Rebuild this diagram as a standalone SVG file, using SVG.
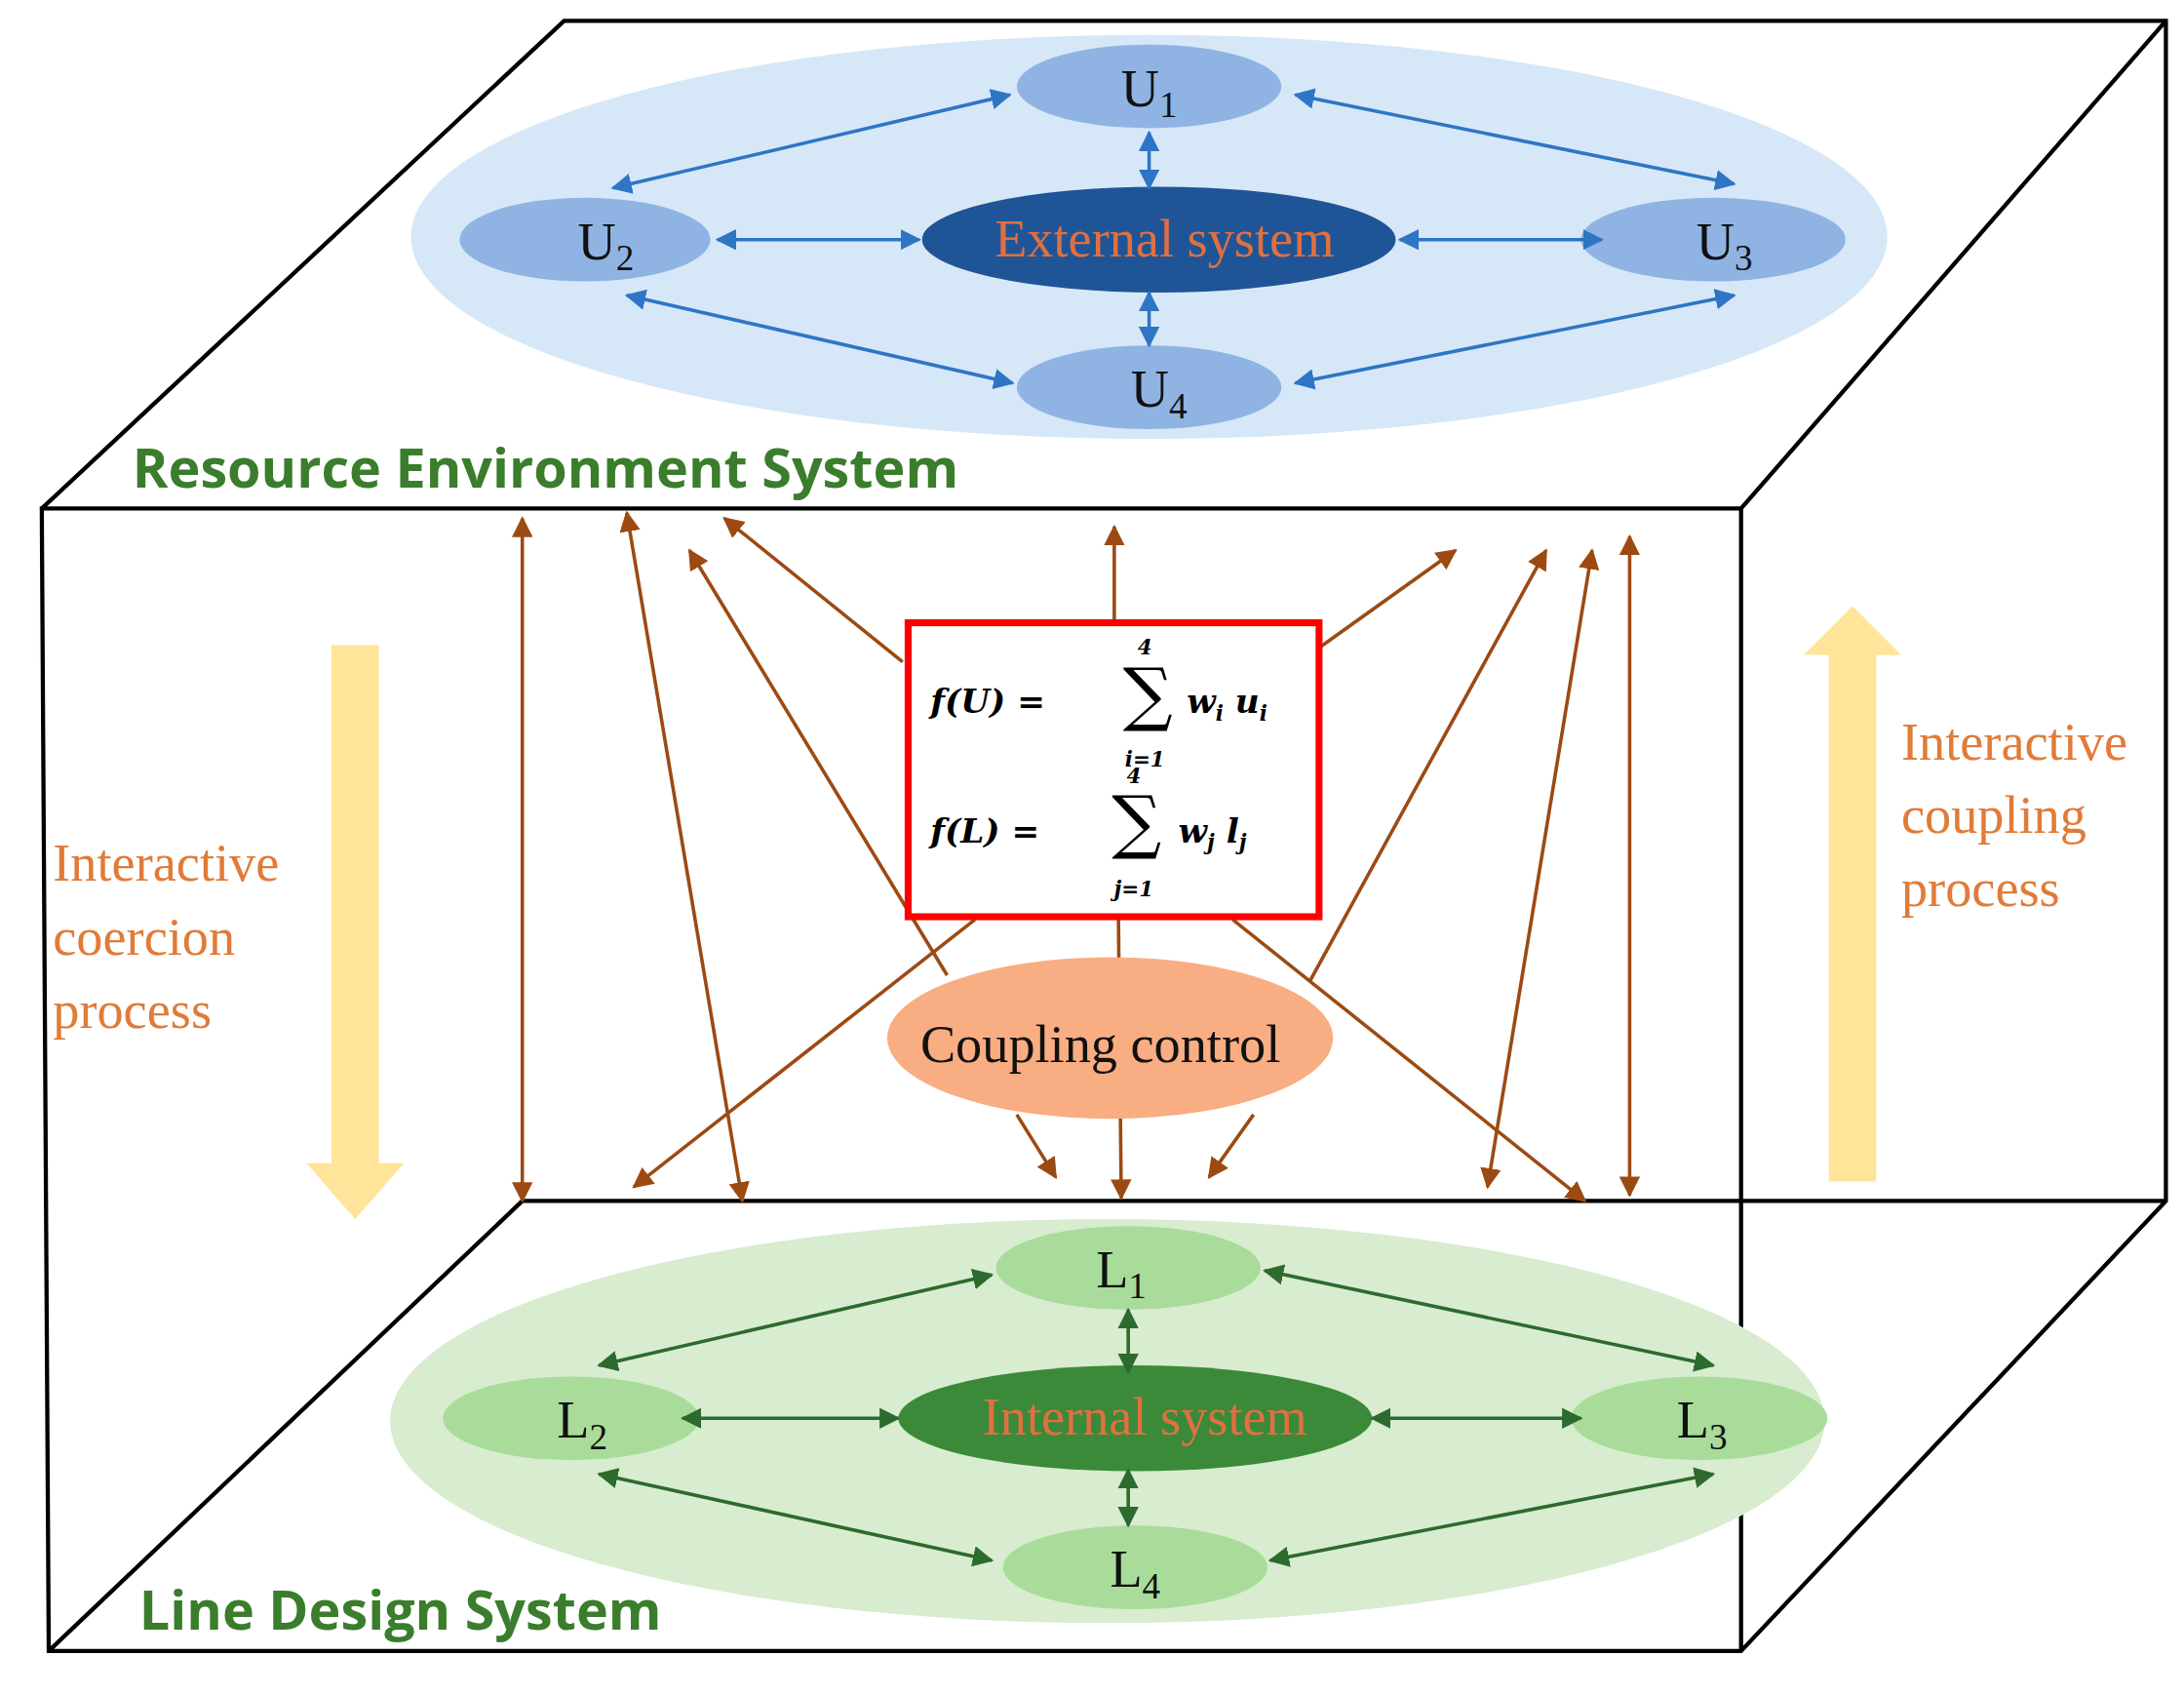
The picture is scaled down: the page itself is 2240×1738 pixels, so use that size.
<svg xmlns="http://www.w3.org/2000/svg" width="2240" height="1738" viewBox="0 0 2240 1738">
<defs>
<marker id="mb" viewBox="0 0 10 10" refX="9" refY="5" markerWidth="6" markerHeight="6" orient="auto-start-reverse"><path d="M0,0 L10,5 L0,10 z" fill="#2e75c6"/></marker>
<marker id="mg" viewBox="0 0 10 10" refX="9" refY="5" markerWidth="6" markerHeight="6" orient="auto-start-reverse"><path d="M0,0 L10,5 L0,10 z" fill="#2d6a2d"/></marker>
<marker id="mr" viewBox="0 0 10 10" refX="9" refY="5" markerWidth="6" markerHeight="6" orient="auto-start-reverse"><path d="M0,0 L10,5 L0,10 z" fill="#9c4a12"/></marker>
<style>
.box{fill:none;stroke:#000;stroke-width:3}
.bl{stroke:#2e75c6;stroke-width:2.5;fill:none;marker-start:url(#mb);marker-end:url(#mb)}
.gr{stroke:#2d6a2d;stroke-width:2.5;fill:none;marker-start:url(#mg);marker-end:url(#mg)}
.br{stroke:#9c4a12;stroke-width:2.5;fill:none;marker-end:url(#mr)}
.brd{stroke:#9c4a12;stroke-width:2.5;fill:none;marker-start:url(#mr);marker-end:url(#mr)}
.nt{font-family:"Liberation Serif",serif;font-size:38px;fill:#111;text-anchor:middle}
.or{font-family:"Liberation Serif",serif;font-size:38px;fill:#e07b39}
.sys{font-family:"Open Sans","Liberation Sans",sans-serif;font-size:39px;font-weight:bold;fill:#3a7d2c}
.fm{font-family:"DejaVu Serif",serif;font-weight:bold;font-style:italic;font-size:24px;fill:#000}
.sg{font-family:"DejaVu Serif",serif;font-size:50px;fill:#000;text-anchor:middle}
.sm{font-family:"DejaVu Serif",serif;font-weight:bold;font-style:italic;font-size:15px;fill:#000;text-anchor:middle}
</style>
</defs>
<g transform="scale(1.42857)">
<g id="cube">
<path class="box" d="M30,365 L405,15 L1555,15 L1555,862 L1250,1185 L35,1185 L30,365 L1250,365 L1555,15 M1250,365 L1250,1185 M375,862 L1555,862 M375,862 L35,1185"/>
</g>
<g id="top-layer">
<ellipse cx="825" cy="170" rx="530" ry="145" fill="#d6e8f7"/>
<g id="U1"><ellipse cx="825" cy="62" rx="95" ry="30" fill="#8fb4e3"/><text class="nt" x="825" y="76">U<tspan font-size="26" dy="8">1</tspan></text></g>
<g id="U2"><ellipse cx="420" cy="172" rx="90" ry="30" fill="#8fb4e3"/><text class="nt" x="435" y="186">U<tspan font-size="26" dy="8">2</tspan></text></g>
<g id="U3"><ellipse cx="1230" cy="172" rx="95" ry="30" fill="#8fb4e3"/><text class="nt" x="1238" y="186">U<tspan font-size="26" dy="8">3</tspan></text></g>
<g id="U4"><ellipse cx="825" cy="278" rx="95" ry="30" fill="#8fb4e3"/><text class="nt" x="832" y="292">U<tspan font-size="26" dy="8">4</tspan></text></g>
<g id="external"><ellipse cx="832" cy="172" rx="170" ry="38" fill="#1f5597"/><text class="nt" x="836" y="184" style="fill:#e07040">External system</text></g>
<text class="sys" x="95" y="350">Resource Environment System</text>
</g>
<g id="bottom-layer">
<ellipse cx="795" cy="1020" rx="515" ry="145" fill="#d8ecd0"/>
<g id="L1"><ellipse cx="810" cy="910" rx="95" ry="30" fill="#a9dc9a"/><text class="nt" x="805" y="924">L<tspan font-size="26" dy="8">1</tspan></text></g>
<g id="L2"><ellipse cx="410" cy="1018" rx="92" ry="30" fill="#a9dc9a"/><text class="nt" x="418" y="1032">L<tspan font-size="26" dy="8">2</tspan></text></g>
<g id="L3"><ellipse cx="1220" cy="1018" rx="92" ry="30" fill="#a9dc9a"/><text class="nt" x="1222" y="1032">L<tspan font-size="26" dy="8">3</tspan></text></g>
<g id="L4"><ellipse cx="815" cy="1125" rx="95" ry="30" fill="#a9dc9a"/><text class="nt" x="815" y="1139">L<tspan font-size="26" dy="8">4</tspan></text></g>
<g id="internal"><ellipse cx="815" cy="1018" rx="170" ry="38" fill="#3a8a3a"/><text class="nt" x="822" y="1030" style="fill:#e07040">Internal system</text></g>
<text class="sys" x="100" y="1170">Line Design System</text>
</g>
<g id="process-arrows">
<polygon points="238,463 272,463 272,835 290,835 255,875 220,835 238,835" fill="#ffe49a"/>
<polygon points="1313,848 1347,848 1347,470 1365,470 1330,435 1295,470 1313,470" fill="#ffe49a"/>
<text class="or" x="38" y="632">Interactive</text><text class="or" x="38" y="685">coercion</text><text class="or" x="38" y="738">process</text>
<text class="or" x="1365" y="545">Interactive</text><text class="or" x="1365" y="598">coupling</text><text class="or" x="1365" y="650">process</text>
</g>
<g id="connectors">
<line class="bl" x1="825" y1="95" x2="825" y2="135"/>
<line class="bl" x1="725" y1="68" x2="440" y2="135"/>
<line class="bl" x1="930" y1="68" x2="1245" y2="132"/>
<line class="bl" x1="515" y1="172" x2="660" y2="172"/>
<line class="bl" x1="1005" y1="172" x2="1150" y2="172"/>
<line class="bl" x1="450" y1="212" x2="727" y2="275"/>
<line class="bl" x1="1245" y1="212" x2="930" y2="275"/>
<line class="bl" x1="825" y1="210" x2="825" y2="248"/>
<line class="gr" x1="810" y1="940" x2="810" y2="985"/>
<line class="gr" x1="712" y1="915" x2="430" y2="980"/>
<line class="gr" x1="908" y1="912" x2="1230" y2="980"/>
<line class="gr" x1="490" y1="1018" x2="645" y2="1018"/>
<line class="gr" x1="985" y1="1018" x2="1135" y2="1018"/>
<line class="gr" x1="430" y1="1058" x2="712" y2="1120"/>
<line class="gr" x1="1230" y1="1058" x2="912" y2="1120"/>
<line class="gr" x1="810" y1="1055" x2="810" y2="1095"/>
<line class="brd" x1="375" y1="372" x2="375" y2="862"/>
<line class="brd" x1="450" y1="368" x2="533" y2="862"/>
<line class="brd" x1="1143" y1="395" x2="1068" y2="852"/>
<line class="brd" x1="1170" y1="385" x2="1170" y2="858"/>
<line class="br" x1="680" y1="700" x2="495" y2="395"/>
<line class="br" x1="648" y1="475" x2="520" y2="372"/>
<line class="br" x1="800" y1="447" x2="800" y2="378"/>
<line class="br" x1="947" y1="465" x2="1045" y2="395"/>
<line class="br" x1="940" y1="705" x2="1110" y2="395"/>
<line class="br" x1="700" y1="660" x2="455" y2="852"/>
<line class="br" x1="885" y1="660" x2="1138" y2="862"/>
<line class="br" x1="803" y1="660" x2="805" y2="860"/>
<line class="br" x1="730" y1="800" x2="758" y2="845"/>
<line class="br" x1="900" y1="800" x2="868" y2="845"/>
</g>
<g id="coupling-control"><ellipse cx="797" cy="745" rx="160" ry="58" fill="#f9ad82"/><text class="nt" x="790" y="762">Coupling control</text></g>
<g id="formula-box">
<rect x="652" y="447" width="295" height="211" fill="#fff" stroke="#ff0000" stroke-width="5"/>
<text class="fm" x="668" y="512">f(U) =</text>
<text class="sg" x="824" y="515">∑</text>
<text class="sm" x="822" y="470">4</text><text class="sm" x="822" y="550">i=1</text>
<text class="fm" x="852" y="512">w<tspan font-size="15" dy="5">i</tspan><tspan dy="-5"> u</tspan><tspan font-size="15" dy="5">i</tspan></text>
<text class="fm" x="668" y="605">f(L) =</text>
<text class="sg" x="816" y="607">∑</text>
<text class="sm" x="814" y="562">4</text><text class="sm" x="814" y="643">j=1</text>
<text class="fm" x="846" y="605">w<tspan font-size="15" dy="5">j</tspan><tspan dy="-5"> l</tspan><tspan font-size="15" dy="5">j</tspan></text>
</g>
</g>
</svg>
